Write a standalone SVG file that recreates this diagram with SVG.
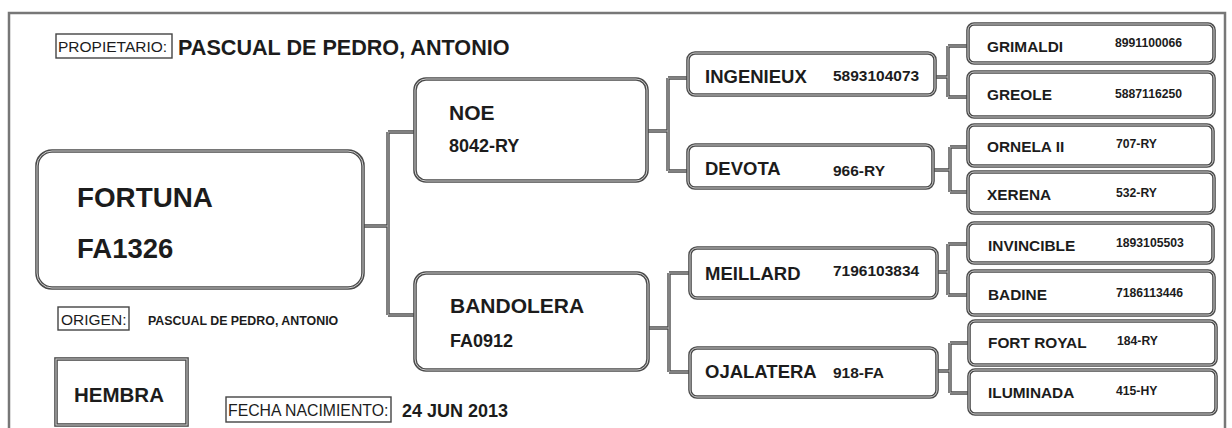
<svg xmlns="http://www.w3.org/2000/svg" xmlns:xlink="http://www.w3.org/1999/xlink" width="1232" height="428" viewBox="0 0 1232 428">
<style>
text{font-family:"Liberation Sans",Arial,sans-serif;fill:#1c1c1c}
.b{font-weight:bold}
.bx{fill:#fff;stroke:#4a4a4a;stroke-width:3.6}
.bi{fill:none;stroke:#d0d0d0;stroke-width:1}
.lb{fill:#fff;stroke:#444;stroke-width:1.4}
.c{fill:none;stroke:#4a4a4a;stroke-width:3.4}
.ci{fill:none;stroke:#b8b8b8;stroke-width:1}
.frame{fill:none;stroke:#777;stroke-width:2.5}
.g2{font-size:18.5px;font-weight:bold}
.n3{font-size:15.5px;font-weight:bold}
.g4{font-size:15.4px;font-weight:bold}
.n4{font-size:12.2px;font-weight:bold}
</style>
<defs>
<path id="conn" d="M363,226H388M388,132V315M388,132H415M388,315H415
M647,131H668M668,78V171M668,78H688M668,171H688
M648,328H669M669,273V372M669,273H690M669,372H690
M935,77H948M948,46V97M948,46H968M948,97H968
M933,170H950M950,147V192M950,147H968M950,192H968
M936,272H948M948,244V295M948,244H968M948,295H968
M936,371H950M950,343V393M950,343H968M950,393H968"/>
</defs>
<rect class="frame" x="9" y="13" width="1216" height="430"/>
<g id="connectors">
<use xlink:href="#conn" href="#conn" class="c"/>
<use xlink:href="#conn" href="#conn" class="ci"/>
</g>
<g id="propietario">
<rect class="lb" x="56" y="34" width="116" height="24"/>
<text x="58" y="52" font-size="15.5">PROPIETARIO:</text>
<text class="b" x="178" y="55" font-size="21.6">PASCUAL DE PEDRO, ANTONIO</text>
</g>
<g id="fortuna">
<rect class="bx" x="37" y="151" width="326" height="137" rx="15"/>
<rect class="bi" x="37" y="151" width="326" height="137" rx="15"/>
<text class="b" x="77" y="207" font-size="27.8">FORTUNA</text>
<text class="b" x="77" y="258" font-size="27.5">FA1326</text>
</g>
<g id="origen">
<rect class="lb" x="58" y="307" width="71" height="23"/>
<text x="61" y="325" font-size="15.5">ORIGEN:</text>
<text class="b" x="148" y="325" font-size="12.4">PASCUAL DE PEDRO, ANTONIO</text>
</g>
<g id="hembra">
<rect class="bx" x="56" y="359" width="131" height="66"/>
<rect class="bi" x="56" y="359" width="131" height="66"/>
<text class="b" x="74" y="402" font-size="20.5">HEMBRA</text>
</g>
<g id="fecha">
<rect class="lb" x="226" y="397" width="165" height="25"/>
<text x="228" y="416" font-size="15.8">FECHA NACIMIENTO:</text>
<text class="b" x="402" y="417" font-size="18">24 JUN 2013</text>
</g>
<g id="noe">
<rect class="bx" x="415" y="79" width="232" height="102" rx="11"/>
<rect class="bi" x="415" y="79" width="232" height="102" rx="11"/>
<text class="b" x="449" y="120" font-size="21">NOE</text>
<text class="b" x="449" y="152" font-size="18">8042-RY</text>
</g>
<g id="bandolera">
<rect class="bx" x="415" y="273" width="233" height="97" rx="11"/>
<rect class="bi" x="415" y="273" width="233" height="97" rx="11"/>
<text class="b" x="450" y="313" font-size="21">BANDOLERA</text>
<text class="b" x="450" y="347" font-size="18">FA0912</text>
</g>
<g id="ingenieux">
<rect class="bx" x="688" y="53" width="247" height="42" rx="7"/>
<rect class="bi" x="688" y="53" width="247" height="42" rx="7"/>
<text class="g2" x="705" y="83">INGENIEUX</text>
<text class="n3" x="833" y="81">5893104073</text>
</g>
<g id="devota">
<rect class="bx" x="688" y="145" width="245" height="43" rx="7"/>
<rect class="bi" x="688" y="145" width="245" height="43" rx="7"/>
<text class="g2" x="705" y="175">DEVOTA</text>
<text class="n3" x="833" y="176">966-RY</text>
</g>
<g id="meillard">
<rect class="bx" x="690" y="248" width="247" height="50" rx="7"/>
<rect class="bi" x="690" y="248" width="247" height="50" rx="7"/>
<text class="g2" x="705" y="280">MEILLARD</text>
<text class="n3" x="833" y="276">7196103834</text>
</g>
<g id="ojalatera">
<rect class="bx" x="690" y="348" width="247" height="49" rx="7"/>
<rect class="bi" x="690" y="348" width="247" height="49" rx="7"/>
<text class="g2" x="705" y="378">OJALATERA</text>
<text class="n3" x="833" y="378">918-FA</text>
</g>
<g id="grimaldi">
<rect class="bx" x="968" y="24" width="246" height="39" rx="6"/>
<rect class="bi" x="968" y="24" width="246" height="39" rx="6"/>
<text class="g4" x="987" y="52">GRIMALDI</text>
<text class="n4" x="1115" y="47">8991100066</text>
</g>
<g id="greole">
<rect class="bx" x="968" y="72" width="246" height="45" rx="6"/>
<rect class="bi" x="968" y="72" width="246" height="45" rx="6"/>
<text class="g4" x="987" y="100">GREOLE</text>
<text class="n4" x="1115" y="98">5887116250</text>
</g>
<g id="ornela">
<rect class="bx" x="968" y="125" width="245" height="41" rx="6"/>
<rect class="bi" x="968" y="125" width="245" height="41" rx="6"/>
<text class="g4" x="987" y="152">ORNELA II</text>
<text class="n4" x="1116" y="148">707-RY</text>
</g>
<g id="xerena">
<rect class="bx" x="968" y="172" width="246" height="41" rx="6"/>
<rect class="bi" x="968" y="172" width="246" height="41" rx="6"/>
<text class="g4" x="987" y="200">XERENA</text>
<text class="n4" x="1116" y="197">532-RY</text>
</g>
<g id="invincible">
<rect class="bx" x="968" y="223" width="245" height="40" rx="6"/>
<rect class="bi" x="968" y="223" width="245" height="40" rx="6"/>
<text class="g4" x="988" y="251">INVINCIBLE</text>
<text class="n4" x="1116" y="247">1893105503</text>
</g>
<g id="badine">
<rect class="bx" x="968" y="271" width="246" height="44" rx="6"/>
<rect class="bi" x="968" y="271" width="246" height="44" rx="6"/>
<text class="g4" x="988" y="300">BADINE</text>
<text class="n4" x="1116" y="297">7186113446</text>
</g>
<g id="fortroyal">
<rect class="bx" x="969" y="321" width="247" height="44" rx="6"/>
<rect class="bi" x="969" y="321" width="247" height="44" rx="6"/>
<text class="g4" x="988" y="348">FORT ROYAL</text>
<text class="n4" x="1117" y="345">184-RY</text>
</g>
<g id="iluminada">
<rect class="bx" x="969" y="370" width="247" height="44" rx="6"/>
<rect class="bi" x="969" y="370" width="247" height="44" rx="6"/>
<text class="g4" x="988" y="398">ILUMINADA</text>
<text class="n4" x="1116" y="395">415-HY</text>
</g>
</svg>
